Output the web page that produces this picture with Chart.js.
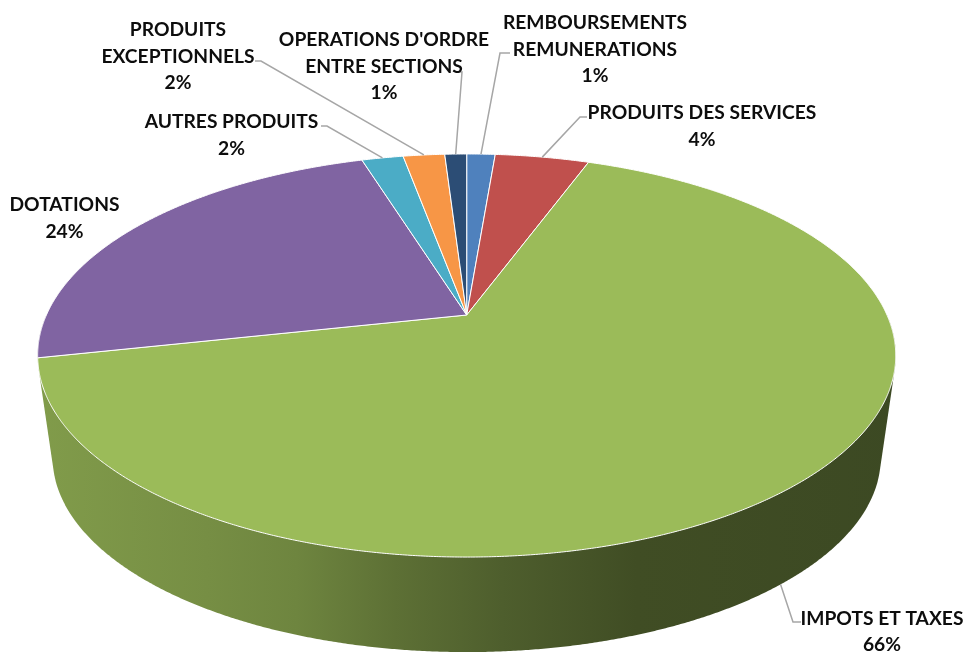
<!DOCTYPE html>
<html><head><meta charset="utf-8">
<script src="https://cdn.jsdelivr.net/npm/chart.js@4.4.1/dist/chart.umd.min.js"></script>
<style>html,body{margin:0;padding:0;background:#fff}canvas{display:block}</style>
</head><body>
<canvas id="c" width="966" height="654"></canvas>
<script>
// ---------- DATA ----------
const categories = ["REMBOURSEMENTS REMUNERATIONS", "PRODUITS DES SERVICES", "IMPOTS ET TAXES", "DOTATIONS", "AUTRES PRODUITS", "PRODUITS EXCEPTIONNELS", "OPERATIONS D'ORDRE ENTRE SECTIONS"];
const values = [1.3, 4.3, 66.0, 23.6, 1.9, 1.9, 1.0];
const colors = ["#4F81BD", "#C0504D", "#9BBB59", "#8064A2", "#4BACC6", "#F79646", "#2C4D75"];

// ---------- LAYOUT ----------
const lineBreaks = [[1], [], [], [], [], [1], [2]]; // word index where a new line starts
const labelLayout = [
  {x: 595, y: 29, lead: [[510, 53], [500, 53]], anchor: 'top'},
  {x: 702, y: 119, lead: [[587, 117], [580, 117]], anchor: 'top'},
  {x: 882, y: 624.5, lead: [[801, 622], [793, 622]], anchor: 'bottom'},
  {x: 64.5, y: 211, lead: null},
  {x: 231.5, y: 128, lead: [[321, 126], [327, 126]], anchor: 'top'},
  {x: 178, y: 36, lead: [[255, 61], [261, 61]], anchor: 'top'},
  {x: 384, y: 46, lead: [[457, 72], [462, 72]], anchor: 'top'}
];
const LINE_H = 26.5;
// perspective camera for the 3D pie
const CAM = {cx: 466.7, cy: 315, a: 420.3, b: 193.4, p: -0.201, depth: 103.5, s: 0.965};

function project(X, Y, bottom) {
  const d = 1 + CAM.p * Y;
  const s = bottom ? CAM.s : 1;
  return {x: CAM.cx + s * CAM.a * X / d, y: CAM.cy + (bottom ? CAM.depth : 0) + s * CAM.b * Y / d};
}
const TOP = -Math.PI / 2;
const TAU = Math.PI * 2;

function projCtx(real, mapPt) {
  let tx = 0, ty = 0; const stack = [];
  const pt = (x, y) => mapPt(x + tx, y + ty);
  const over = {
    save() { stack.push([tx, ty]); real.save(); },
    restore() { const s = stack.pop(); if (s) { tx = s[0]; ty = s[1]; } real.restore(); },
    translate(x, y) { tx += x; ty += y; },
    moveTo(x, y) { const q = pt(x, y); real.moveTo(q.x, q.y); },
    lineTo(x, y) { const q = pt(x, y); real.lineTo(q.x, q.y); },
    arc(cx, cy, r, a0, a1, ccw) {
      if (![cx, cy, r, a0, a1].every(Number.isFinite)) return;
      let d = a1 - a0;
      if (!ccw) { d = d >= TAU ? TAU : ((d % TAU) + TAU) % TAU; }
      else { d = -d >= TAU ? -TAU : -((((-d) % TAU) + TAU) % TAU); }
      const n = Math.max(1, Math.ceil(Math.abs(d) / 0.005));
      for (let i = 0; i <= n; i++) {
        const a = a0 + d * i / n;
        const q = pt(cx + r * Math.cos(a), cy + r * Math.sin(a));
        real.lineTo(q.x, q.y);
      }
    }
  };
  return new Proxy(real, {
    get(t, prop) { if (prop in over) return over[prop]; const v = t[prop]; return typeof v === 'function' ? v.bind(t) : v; },
    set(t, prop, val) { t[prop] = val; return true; }
  });
}

function hexRgb(h) { const n = parseInt(h.slice(1), 16); return [(n >> 16) & 255, (n >> 8) & 255, n & 255]; }
function shade(h, f) { const c = hexRgb(h); return 'rgb(' + c.map(v => Math.round(v * f)).join(',') + ')'; }

function hull(pts) {
  pts = pts.slice().sort((a, b) => a.x - b.x || a.y - b.y);
  const cross = (o, a, b) => (a.x - o.x) * (b.y - o.y) - (a.y - o.y) * (b.x - o.x);
  const lower = [], upper = [];
  for (const p of pts) { while (lower.length >= 2 && cross(lower[lower.length - 2], lower[lower.length - 1], p) <= 0) lower.pop(); lower.push(p); }
  for (let i = pts.length - 1; i >= 0; i--) { const p = pts[i]; while (upper.length >= 2 && cross(upper[upper.length - 2], upper[upper.length - 1], p) <= 0) upper.pop(); upper.push(p); }
  upper.pop(); lower.pop();
  return lower.concat(upper);
}

const pie3d = {
  id: 'pie3d',
  beforeDatasetsDraw(chart) {
    const ctx = chart.ctx;
    const meta = chart.getDatasetMeta(0);
    const els = meta.data;
    // sides
    const sides = [];
    els.forEach((el, i) => {
      const t0 = el.startAngle - TOP, t1 = el.endAngle - TOP;
      const lo = Math.max(t0, Math.PI / 2), hi = Math.min(t1, Math.PI * 1.5);
      if (hi <= lo) return;
      sides.push({i, lo, hi, dist: Math.abs((lo + hi) / 2 - Math.PI)});
    });
    sides.sort((a, b) => b.dist - a.dist);
    const l = project(-1.02, 0.2, false).x, r = project(1.02, 0.2, false).x;
    sides.forEach(s => {
      const pts = [];
      const n = Math.ceil((s.hi - s.lo) / 0.005);
      for (let k = 0; k <= n; k++) {
        const t = s.lo + (s.hi - s.lo) * k / n;
        pts.push(project(Math.sin(t), -Math.cos(t), false));
        pts.push(project(Math.sin(t), -Math.cos(t), true));
      }
      const h = hull(pts);
      const g = ctx.createLinearGradient(l, 0, r, 0);
      const base = colors[s.i];
      [[0, 0.84], [0.21, 0.76], [0.31, 0.71], [0.42, 0.6], [0.54, 0.5], [0.69, 0.41], [1, 0.39]]
        .forEach(([o, f]) => g.addColorStop(o, shade(base, f)));
      ctx.save();
      ctx.beginPath();
      h.forEach((p, k) => k ? ctx.lineTo(p.x, p.y) : ctx.moveTo(p.x, p.y));
      ctx.closePath();
      ctx.fillStyle = g;
      ctx.fill();
      ctx.restore();
    });
    // top faces drawn by Chart.js arc elements through the perspective context
    els.forEach(el => {
      const R = el.outerRadius, cx = el.x, cy = el.y;
      const pctx = projCtx(ctx, (x, y) => project((x - cx) / R, (y - cy) / R, false));
      el.draw(pctx);
    });
    return false;
  },
  afterDraw(chart) {
    const ctx = chart.ctx;
    const els = chart.getDatasetMeta(0).data;
    const total = values.reduce((a, b) => a + b, 0);
    ctx.save();
    ctx.font = 'bold 18px Lato';
    const refW = {"PRODUITS DES SERVICES": 226, "REMBOURSEMENTS": 189, "OPERATIONS D'ORDRE": 207, "AUTRES PRODUITS": 175};
    let sr = 0, sm = 0;
    for (const k in refW) { sr += refW[k]; sm += ctx.measureText(k).width; }
    const f = sr / sm;
    // leaders
    ctx.strokeStyle = '#A6A6A6';
    ctx.lineWidth = 1.5;
    labelLayout.forEach((L, i) => {
      if (!L.lead) return;
      const el = els[i];
      const t = (el.startAngle + el.endAngle) / 2 - TOP;
      const e = project(Math.sin(t), -Math.cos(t), L.anchor === 'bottom');
      ctx.beginPath();
      ctx.moveTo(L.lead[0][0], L.lead[0][1]);
      ctx.lineTo(L.lead[1][0], L.lead[1][1]);
      ctx.lineTo(e.x, e.y);
      ctx.stroke();
    });
    // texts
    ctx.fillStyle = '#0d0d0d';
    ctx.textAlign = 'center';
    ctx.textBaseline = 'alphabetic';
    categories.forEach((name, i) => {
      const words = name.split(' ');
      const lines = [];
      let cur = [];
      words.forEach((w, k) => { if (lineBreaks[i].includes(k) && cur.length) { lines.push(cur.join(' ')); cur = []; } cur.push(w); });
      lines.push(cur.join(' '));
      lines.push(Math.round(values[i] / total * 100) + '%');
      const L = labelLayout[i];
      lines.forEach((s, k) => {
        ctx.save();
        ctx.translate(L.x, L.y + k * LINE_H);
        ctx.scale(f, 1);
        ctx.fillText(s, 0, 0);
        ctx.restore();
      });
    });
    ctx.restore();
  }
};

new Chart(document.getElementById('c'), {
  type: 'pie',
  data: {
    labels: categories,
    datasets: [{data: values, backgroundColor: colors, borderColor: '#ffffff', borderWidth: 1}]
  },
  options: {
    responsive: false,
    animation: false,
    devicePixelRatio: 1,
    plugins: {legend: {display: false}, tooltip: {enabled: false}}
  },
  plugins: [pie3d]
});
</script>
</body></html>
